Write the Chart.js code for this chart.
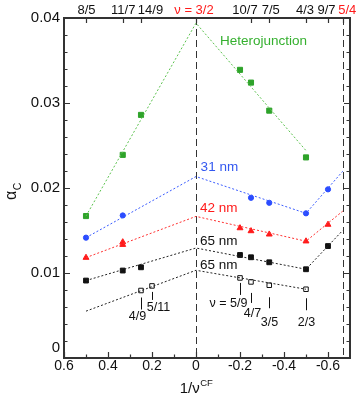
<!DOCTYPE html>
<html>
<head>
<meta charset="utf-8">
<script src="https://cdn.jsdelivr.net/npm/chart.js@4.4.0/dist/chart.umd.min.js"></script>
<style>
html, body { margin: 0; padding: 0; background: #fff; }
canvas { display: block; }
</style>
</head>
<body>
<canvas id="alpha-chart" width="357" height="401"></canvas>
<script>
const FONT = "'Liberation Sans', Arial, sans-serif";

// x = 1/nu^CF, y = alpha_c
const hetX = [0.5, 0.333, 0.25, -0.2, -0.25, -0.333, -0.5];
const hetY = [0.0167, 0.0239, 0.0286, 0.0339, 0.0324, 0.0291, 0.0236];
const hetFitX = [0.5, 0, -0.5];
const hetFitY = [0.0167, 0.0394, 0.0244];

const nm31X = [0.5, 0.333, -0.25, -0.333, -0.5, -0.6];
const nm31Y = [0.01416, 0.01677, 0.01885, 0.01826, 0.01702, 0.01984];
const nm31FitX = [0.5, 0, -0.5, -0.667];
const nm31FitY = [0.01416, 0.02135, 0.01702, 0.02197];

const nm42X = [0.5, 0.333, 0.333, -0.2, -0.25, -0.333, -0.5, -0.6];
const nm42Y = [0.01181, 0.01364, 0.01333, 0.01529, 0.01494, 0.01455, 0.01374, 0.01570];
const nm42FitX = [0.5, 0, -0.5, -0.667];
const nm42FitY = [0.01181, 0.01666, 0.01374, 0.01728];

const nm65X = [0.5, 0.333, 0.25, -0.2, -0.25, -0.333, -0.5, -0.6];
const nm65Y = [0.00911, 0.01029, 0.01067, 0.01212, 0.01185, 0.01126, 0.01044, 0.01317];
const nm65FitX = [0.5, 0, -0.5, -0.667];
const nm65FitY = [0.00911, 0.01294, 0.01044, 0.01501];

const openX = [0.25, 0.2, -0.2, -0.25, -0.333, -0.5];
const openY = [0.00794, 0.00848, 0.00942, 0.00895, 0.00856, 0.00809];
const openLabels = ['4/9', '5/11', 'ν = 5/9', '4/7', '3/5', '2/3'];
const openFitX = [0.5, 0, -0.5];
const openFitY = [0.00551, 0.01032, 0.00809];

const topTickX = [0.5, 0.333, 0.25, 0, -0.25, -0.333, -0.5, -0.6, -0.667];
const topTickLabels = ['8/5', '11/7', '14/9', 'ν = 3/2', '10/7', '7/5', '4/3', '9/7', '5/4'];
const topTickRed = [false, false, false, true, false, false, false, false, true];
const bottomTicks = [0.6, 0.4, 0.2, 0, -0.2, -0.4, -0.6];
const yTicks = [0, 0.01, 0.02, 0.03, 0.04];
const dashedX = [0, -0.667];

const GREEN = '#2ea32a';
const BLUE = '#2b4cff';
const RED = '#ff1a1a';
const BLACK = '#111111';

function pts(xs, ys) {
    return xs.map((x, i) => ({ x: x, y: ys[i] }));
}

function fitLine(xs, ys, color) {
    return {
        data: pts(xs, ys),
        showLine: true,
        borderColor: color,
        borderWidth: 1,
        borderDash: [2, 2],
        pointRadius: 0,
        fill: false
    };
}

function markers(xs, ys, color, style, radius, fillColor) {
    return {
        data: pts(xs, ys),
        showLine: false,
        pointStyle: style,
        pointRadius: radius,
        pointBackgroundColor: fillColor || color,
        pointBorderColor: color,
        pointBorderWidth: 1
    };
}

// labels next to the fit lines, anchored in data coordinates
const seriesText = [
    { text: 'Heterojunction', x: -0.109, y: 0.0373, color: '#35b02f' },
    { text: '31 nm', x: -0.021, y: 0.0224, color: '#3358f0' },
    { text: '42 nm', x: -0.018, y: 0.0176, color: RED },
    { text: '65 nm', x: -0.018, y: 0.01376, color: BLACK },
    { text: '65 nm', x: -0.018, y: 0.01091, color: BLACK }
];

// pixel offsets for the filling-factor markers under the open squares
const fracStyle = [
    { l0: 7, l1: 19, dx: -4, dy: 26 },
    { l0: 6, l1: 14, dx: 6, dy: 22 },
    { l0: 5, l1: 17, dx: -12, dy: 26 },
    { l0: 11, l1: 21, dx: 1, dy: 32 },
    { l0: 12, l1: 23, dx: 0, dy: 37 },
    { l0: 9, l1: 21, dx: 0, dy: 33 }
];

const topNudge = [0.5, 0.5, 9.5, -2, -6, 1.5, -1, -1.5, 4.5];

const decorPlugin = {
    id: 'decor',
    beforeDatasetsDraw(chart) {
        const { ctx, chartArea, scales } = chart;
        ctx.save();
        ctx.strokeStyle = '#333';
        ctx.lineWidth = 1;
        ctx.setLineDash([7, 4]);
        dashedX.forEach(v => {
            const px = Math.round(scales.x.getPixelForValue(v)) + 0.5;
            ctx.beginPath();
            ctx.moveTo(px, chartArea.top);
            ctx.lineTo(px, chartArea.bottom);
            ctx.stroke();
        });
        ctx.restore();
    },
    afterDraw(chart) {
        const { ctx, chartArea, scales } = chart;
        const xs = scales.x, ys = scales.y;
        const { left, right, top, bottom } = chartArea;
        ctx.save();

        // frame
        ctx.strokeStyle = '#333';
        ctx.lineWidth = 2;
        ctx.strokeRect(left, top, right - left, bottom - top);

        // y ticks, both sides, inward
        ctx.lineWidth = 1.2;
        ctx.beginPath();
        for (let i = 0; i <= 20; i++) {
            const py = Math.round(ys.getPixelForValue(i * 0.002)) + 0.5;
            const len = i % 5 === 0 ? 6 : 3.5;
            ctx.moveTo(left, py); ctx.lineTo(left + len, py);
            ctx.moveTo(right, py); ctx.lineTo(right - len, py);
        }
        // bottom ticks
        for (let i = -6; i <= 6; i++) {
            const px = Math.round(xs.getPixelForValue(i * 0.1)) + 0.5;
            const len = i % 2 === 0 ? 6 : 3.5;
            ctx.moveTo(px, bottom); ctx.lineTo(px, bottom - len);
        }
        // top ticks
        topTickX.forEach(v => {
            const px = Math.round(xs.getPixelForValue(v)) + 0.5;
            ctx.moveTo(px, top); ctx.lineTo(px, top + 5);
        });
        ctx.stroke();

        // top labels
        ctx.font = '13px ' + FONT;
        ctx.textAlign = 'center';
        ctx.textBaseline = 'alphabetic';
        topTickX.forEach((v, i) => {
            ctx.fillStyle = topTickRed[i] ? '#ff1a1a' : '#111';
            ctx.fillText(topTickLabels[i], xs.getPixelForValue(v) + topNudge[i], 13.5);
        });

        // the y "0" label sits a bit higher
        ctx.fillStyle = '#111';
        ctx.textAlign = 'right';
        ctx.textBaseline = 'middle';
        ctx.font = '15px ' + FONT;
        ctx.fillText('0', left - 4, ys.getPixelForValue(0) - 10);

        // series labels
        ctx.textAlign = 'left';
        ctx.font = '13.5px ' + FONT;
        seriesText.forEach(s => {
            ctx.fillStyle = s.color;
            ctx.fillText(s.text, xs.getPixelForValue(s.x), ys.getPixelForValue(s.y));
        });

        // filling factors under the open squares
        ctx.strokeStyle = '#111';
        ctx.lineWidth = 1;
        ctx.fillStyle = '#111';
        ctx.textAlign = 'center';
        ctx.font = '12.5px ' + FONT;
        openX.forEach((v, i) => {
            const st = fracStyle[i];
            const px = Math.round(xs.getPixelForValue(v)) + 0.5;
            const py = ys.getPixelForValue(openY[i]);
            ctx.beginPath();
            ctx.moveTo(px, py + st.l0);
            ctx.lineTo(px, py + st.l1);
            ctx.stroke();
            ctx.fillText(openLabels[i], px + st.dx, py + st.dy);
        });

        // x axis title 1/nu^CF
        ctx.textAlign = 'left';
        ctx.textBaseline = 'alphabetic';
        const main = '1/ν';
        ctx.font = '15px ' + FONT;
        const wMain = ctx.measureText(main).width;
        ctx.font = '9.5px ' + FONT;
        const wSup = ctx.measureText('CF').width;
        const x0 = xs.getPixelForValue(0) - (wMain + wSup) / 2;
        ctx.font = '15px ' + FONT;
        ctx.fillText(main, x0, 393);
        ctx.font = '9.5px ' + FONT;
        ctx.fillText('CF', x0 + wMain + 0.5, 386);

        // y axis title alpha_c
        ctx.translate(16, 200);
        ctx.rotate(-Math.PI / 2);
        ctx.font = '16px ' + FONT;
        ctx.fillText('α', 0, 0);
        const wa = ctx.measureText('α').width;
        ctx.font = '10.5px ' + FONT;
        ctx.fillText('C', wa + 0.5, 5);

        ctx.restore();
    }
};

new Chart(document.getElementById('alpha-chart').getContext('2d'), {
    type: 'scatter',
    data: {
        datasets: [
            fitLine(hetFitX, hetFitY, '#5cc24f'),
            fitLine(nm31FitX, nm31FitY, '#3a5cff'),
            fitLine(nm42FitX, nm42FitY, '#ff3030'),
            fitLine(nm65FitX, nm65FitY, '#222'),
            fitLine(openFitX, openFitY, '#222'),
            markers(hetX, hetY, GREEN, 'rect', 3.6),
            markers(nm31X, nm31Y, BLUE, 'circle', 2.6),
            markers(nm42X, nm42Y, RED, 'triangle', 3.4),
            markers(nm65X, nm65Y, BLACK, 'rect', 3.4),
            markers(openX, openY, BLACK, 'rect', 3.2, '#fff')
        ]
    },
    options: {
        responsive: false,
        animation: false,
        layout: { padding: { top: 18, right: 7, left: 0, bottom: 0 } },
        plugins: {
            legend: { display: false },
            tooltip: { enabled: false }
        },
        scales: {
            x: {
                type: 'linear',
                reverse: true,
                min: -0.7,
                max: 0.6,
                grid: { display: false, drawTicks: false },
                border: { display: false },
                afterBuildTicks: function (scale) {
                    scale.ticks = bottomTicks.map(v => ({ value: v }));
                },
                afterFit: function (scale) { scale.height = 43; },
                ticks: {
                    autoSkip: false,
                    maxRotation: 0,
                    padding: 0,
                    color: '#111',
                    font: { family: FONT, size: 14 },
                    callback: function (value) {
                        return value === 0 ? '0' : value.toFixed(1);
                    }
                }
            },
            y: {
                type: 'linear',
                min: 0,
                max: 0.04,
                grid: { display: false, drawTicks: false },
                border: { display: false },
                afterBuildTicks: function (scale) {
                    scale.ticks = yTicks.map(v => ({ value: v }));
                },
                afterFit: function (scale) { scale.width = 64; },
                ticks: {
                    padding: 4,
                    color: '#111',
                    font: { family: FONT, size: 15 },
                    callback: function (value) {
                        return value === 0 ? '' : value.toFixed(2);
                    }
                }
            }
        }
    },
    plugins: [decorPlugin]
});
</script>
</body>
</html>
